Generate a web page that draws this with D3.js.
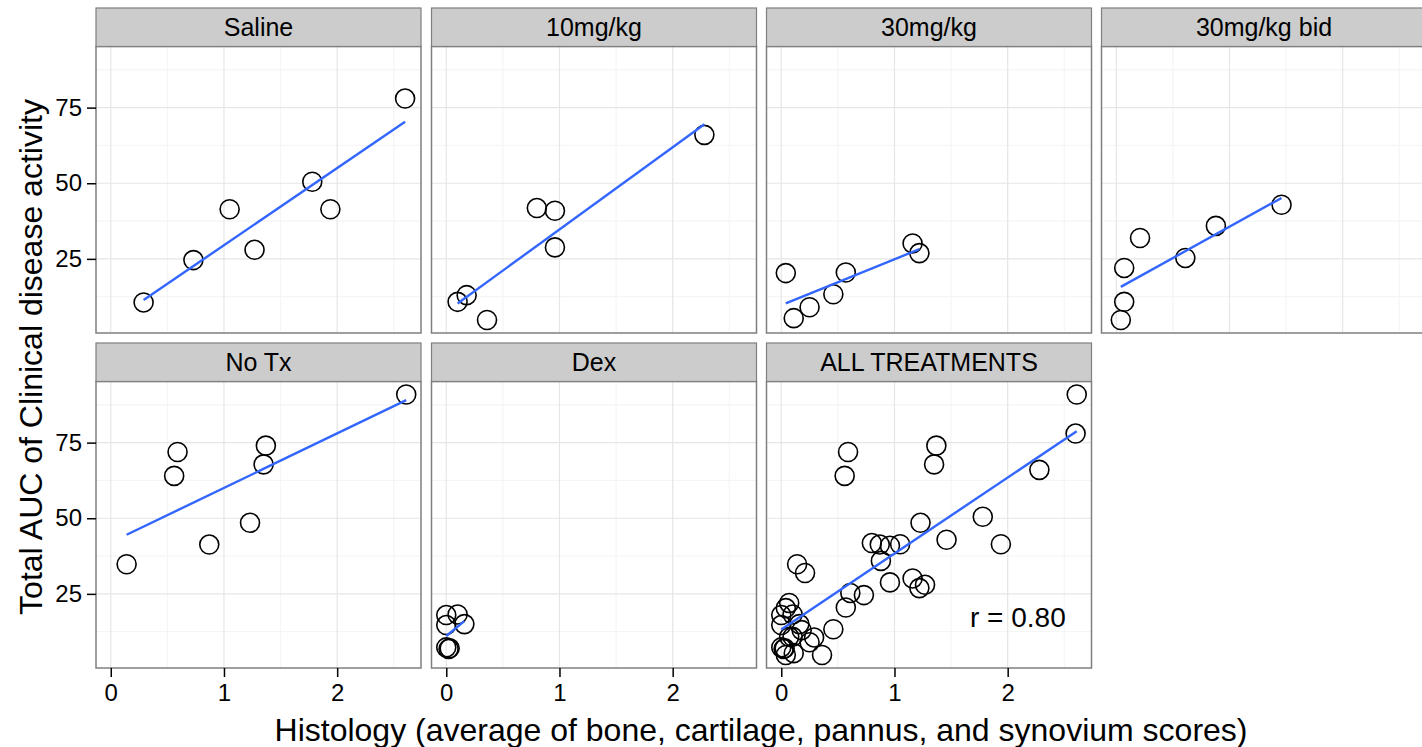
<!DOCTYPE html>
<html>
<head>
<meta charset="utf-8">
<script src="https://cdn.jsdelivr.net/npm/d3@7"></script>
<style>
  body { margin: 0; background: #fff; }
  text { font-family: "Liberation Sans", Arial, sans-serif; }
</style>
</head>
<body>
<svg id="chart" width="1422" height="747"></svg>
<script>
// facet labels, in panel order
var groups = ["Saline", "10mg/kg", "30mg/kg", "30mg/kg bid", "No Tx", "Dex", "ALL TREATMENTS"];

// histology score (x) and total AUC (y)
var salineX = [0.29, 0.73, 1.05, 1.27, 1.78, 1.94, 2.60];
var salineY = [10.6, 24.6, 41.4, 28.0, 50.5, 41.4, 78.0];
var mg10X = [0.10, 0.18, 0.36, 0.80, 0.96, 0.96, 2.28];
var mg10Y = [10.8, 13.0, 4.8, 41.8, 40.9, 28.8, 66.0];
var mg30X = [0.04, 0.11, 0.25, 0.46, 0.57, 1.16, 1.22];
var mg30Y = [20.3, 5.4, 9.0, 13.3, 20.5, 30.1, 26.9];
var bidX = [0.04, 0.07, 0.07, 0.21, 0.61, 0.88, 1.46];
var bidY = [4.8, 10.8, 22.0, 31.9, 25.3, 35.9, 42.9];
var noTxX = [0.14, 0.56, 0.59, 0.87, 1.23, 1.35, 1.37, 2.61];
var noTxY = [34.8, 64.0, 71.9, 41.3, 48.5, 67.8, 74.0, 90.9];
var dexX = [0.00, 0.10, 0.16, 0.00, 0.00, 0.02, 0.03];
var dexY = [18.0, 18.2, 15.0, 14.7, 7.3, 6.8, 7.0];

var xTicks = [0, 1, 2];
var xMinor = [0.5, 1.5, 2.5];
var yTicks = [25, 50, 75];
var yMinor = [12.5, 37.5, 62.5, 87.5];
var rLabel = "r = 0.80";

function pts(xs, ys) {
  return xs.map(function (x, i) { return { x: x, y: ys[i] }; });
}
var byGroup = [
  pts(salineX, salineY), pts(mg10X, mg10Y), pts(mg30X, mg30Y), pts(bidX, bidY),
  pts(noTxX, noTxY), pts(dexX, dexY)
];
byGroup.push(d3.merge(byGroup)); // ALL TREATMENTS is every point together

var svg = d3.select("#chart");

// layout
var colLeft = [96, 431.5, 766.5, 1101.5],
  panelW = 325,
  panelH = 286.5,
  stripH = 38.5,
  rowTop = [8, 343];

var all = byGroup[6];
var xe = d3.extent(all, function (d) { return d.x; }),
  ye = d3.extent(all, function (d) { return d.y; });
var xPad = (xe[1] - xe[0]) * 0.05, yPad = (ye[1] - ye[0]) * 0.05;

var x = d3.scaleLinear().domain([xe[0] - xPad, xe[1] + xPad]).range([0, panelW]);
var y = d3.scaleLinear().domain([ye[0] - yPad, ye[1] + yPad]).range([panelH, 0]);

// least squares line over the data range
function fit(data) {
  var mx = d3.mean(data, function (d) { return d.x; }),
    my = d3.mean(data, function (d) { return d.y; });
  var sxy = d3.sum(data, function (d) { return (d.x - mx) * (d.y - my); }),
    sxx = d3.sum(data, function (d) { return (d.x - mx) * (d.x - mx); });
  var b = sxy / sxx, a = my - b * mx;
  var ex = d3.extent(data, function (d) { return d.x; });
  return ex.map(function (v) { return { x: v, y: a + b * v }; });
}

groups.forEach(function (name, i) {
  var col = i % 4, row = Math.floor(i / 4);
  var g = svg.append("g")
    .attr("transform", "translate(" + colLeft[col] + "," + (rowTop[row] + stripH) + ")");

  // strip
  svg.append("rect")
    .attr("x", colLeft[col]).attr("y", rowTop[row])
    .attr("width", panelW).attr("height", stripH)
    .attr("fill", "#cccccc").attr("stroke", "#7f7f7f").attr("stroke-width", 1.2);
  svg.append("text")
    .attr("x", colLeft[col] + panelW / 2).attr("y", rowTop[row] + stripH / 2 + 9)
    .attr("text-anchor", "middle").attr("font-size", 25).text(name);

  g.append("rect").attr("width", panelW).attr("height", panelH).attr("fill", "#fff");

  // grid
  g.selectAll(".xm").data(xMinor).join("line")
    .attr("x1", x).attr("x2", x).attr("y1", 0).attr("y2", panelH)
    .attr("stroke", "#f5f5f5").attr("stroke-width", 1.2);
  g.selectAll(".ym").data(yMinor).join("line")
    .attr("y1", y).attr("y2", y).attr("x1", 0).attr("x2", panelW)
    .attr("stroke", "#f5f5f5").attr("stroke-width", 1.2);
  g.selectAll(".xg").data(xTicks).join("line")
    .attr("x1", x).attr("x2", x).attr("y1", 0).attr("y2", panelH)
    .attr("stroke", "#e6e6e6").attr("stroke-width", 1.2);
  g.selectAll(".yg").data(yTicks).join("line")
    .attr("y1", y).attr("y2", y).attr("x1", 0).attr("x2", panelW)
    .attr("stroke", "#e6e6e6").attr("stroke-width", 1.2);

  var data = byGroup[i];
  var marks = g.append("g");

  marks.selectAll("circle").data(data).join("circle")
    .attr("cx", function (d) { return x(d.x); })
    .attr("cy", function (d) { return y(d.y); })
    .attr("r", 9.5)
    .attr("fill", "none").attr("stroke", "#000").attr("stroke-width", 1.6);

  marks.append("path")
    .datum(fit(data))
    .attr("d", d3.line().x(function (d) { return x(d.x); }).y(function (d) { return y(d.y); }))
    .attr("stroke", "#3366ff").attr("stroke-width", 2.4).attr("fill", "none");

  if (name == "ALL TREATMENTS") {
    g.append("text")
      .attr("x", x(2.09)).attr("y", y(17.3) + 10)
      .attr("text-anchor", "middle").attr("font-size", 28).text(rLabel);
  }

  g.append("rect").attr("width", panelW).attr("height", panelH)
    .attr("fill", "none").attr("stroke", "#7f7f7f").attr("stroke-width", 1.5);

  // y axis on the first column
  if (col == 0) {
    var ya = g.append("g").call(d3.axisLeft(y).tickValues(yTicks).tickSize(9).tickPadding(5));
    ya.select(".domain").remove();
    ya.selectAll("line").attr("stroke-width", 1.5);
    ya.selectAll("text").attr("font-size", 24).attr("font-family", "Liberation Sans, Arial, sans-serif");
  }
  // x axis on the bottom row
  if (row == 1) {
    var xa = g.append("g").attr("transform", "translate(0," + panelH + ")")
      .call(d3.axisBottom(x).tickValues(xTicks).tickSize(9).tickPadding(7).tickFormat(d3.format("d")));
    xa.select(".domain").remove();
    xa.selectAll("line").attr("stroke-width", 1.5);
    xa.selectAll("text").attr("font-size", 24).attr("font-family", "Liberation Sans, Arial, sans-serif");
  }
});

// axis titles
svg.append("text")
  .attr("x", 761).attr("y", 741)
  .attr("text-anchor", "middle").attr("font-size", 32)
  .text("Histology (average of bone, cartilage, pannus, and synovium scores)");
svg.append("text")
  .attr("transform", "translate(42,357) rotate(-90)")
  .attr("text-anchor", "middle").attr("font-size", 32)
  .text("Total AUC of Clinical disease activity");
</script>
</body>
</html>
